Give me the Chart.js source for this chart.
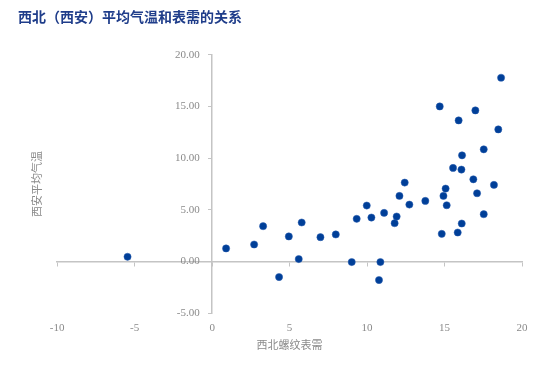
<!DOCTYPE html>
<html>
<head>
<meta charset="utf-8">
<script src="https://cdn.jsdelivr.net/npm/chart.js@4"></script>
<style>
  body { margin: 0; background: #fff; }
</style>
</head>
<body>
<canvas id="scatterChart" width="550" height="371"></canvas>
<script>
// 西北螺纹表需 (x) vs 西安平均气温 (y)
const demandValues = [-5.46, 0.90, 2.71, 3.29, 4.32, 4.95, 5.59, 5.78, 6.99, 7.98,
    9.01, 9.33, 9.98, 10.28, 10.77, 10.86, 11.10, 11.78, 11.91, 12.09,
    12.43, 12.73, 13.76, 14.82, 14.93, 15.07, 15.14, 15.85, 16.11, 17.53,
    17.10, 18.19, 16.86, 15.55, 16.09, 16.13, 17.53, 18.47, 15.91, 16.99,
    14.69, 18.65];
const tempValues = [0.45, 1.26, 1.64, 3.41, -1.51, 2.42, 0.23, 3.77, 2.35, 2.61,
    -0.06, 4.12, 5.41, 4.25, -1.80, -0.06, 4.70, 3.70, 4.35, 6.34,
    7.63, 5.50, 5.86, 2.67, 6.34, 7.05, 5.44, 2.80, 3.67, 4.57,
    6.60, 7.41, 7.95, 9.05, 8.89, 10.27, 10.85, 12.78, 13.65, 14.62,
    15.00, 17.78];
const xTicks = [-10, -5, 0, 5, 10, 15, 20];
const yTicks = [-5, 0, 5, 10, 15, 20];

const chartTitle = '西北（西安）平均气温和表需的关系';
const xTitle = '西北螺纹表需';
const yTitle = '西安平均气温';

const points = demandValues.map((x, i) => ({ x: x, y: tempValues[i] }));

const labelFont = { family: "'Liberation Serif', 'Noto Sans CJK SC'", size: 11 };
const axisGray = '#c4c4c4';
const textGray = '#8a8a8a';

const ctx = document.getElementById('scatterChart').getContext('2d');
new Chart(ctx, {
    type: 'scatter',
    data: {
        datasets: [{
            data: points,
            backgroundColor: '#003f98',
            borderColor: '#2a5fb0',
            borderWidth: 0.5,
            pointRadius: 3.6,
            xAxisID: 'x',
            yAxisID: 'y'
        }]
    },
    options: {
        responsive: false,
        animation: false,
        layout: { padding: { left: 18, right: 28, top: 0, bottom: 19.5 } },
        plugins: {
            legend: { display: false },
            tooltip: { enabled: false },
            title: {
                display: true,
                text: chartTitle,
                align: 'start',
                color: '#1f3d8a',
                font: { family: "'Noto Sans CJK SC'", size: 14, weight: 'bold' },
                padding: { top: 8, bottom: 30 }
            }
        },
        scales: {
            // bottom axis: only tick labels and title
            x: {
                type: 'linear',
                position: 'bottom',
                min: -10, max: 20,
                afterBuildTicks: (axis) => { axis.ticks = xTicks.map(v => ({ value: v })); },
                grid: { display: false },
                border: { display: false },
                ticks: { color: textGray, font: labelFont, padding: 0 },
                title: {
                    display: true,
                    text: xTitle,
                    color: textGray,
                    font: { family: "'Noto Sans CJK SC'", size: 11 },
                    padding: { top: 4, bottom: 0 }
                }
            },
            // horizontal axis line through y = 0
            xZero: {
                type: 'linear',
                position: { y: 0 },
                min: -10, max: 20,
                afterBuildTicks: (axis) => { axis.ticks = xTicks.map(v => ({ value: v })); },
                grid: { drawOnChartArea: false, tickLength: 4, tickColor: axisGray },
                border: { color: axisGray, width: 1.5 },
                ticks: { display: false }
            },
            // vertical axis line through x = 0 (data axis)
            y: {
                type: 'linear',
                position: { x: 0 },
                min: -5, max: 20,
                afterBuildTicks: (axis) => { axis.ticks = yTicks.map(v => ({ value: v })); },
                grid: { drawOnChartArea: false, tickLength: 3, tickColor: axisGray },
                border: { color: axisGray, width: 1.5 },
                ticks: { display: false }
            },
            // y tick labels, set a little left of the x = 0 line
            yLabels: {
                type: 'linear',
                position: { x: -0.8 },
                min: -5, max: 20,
                afterBuildTicks: (axis) => { axis.ticks = yTicks.map(v => ({ value: v })); },
                grid: { display: false },
                border: { display: false },
                ticks: {
                    color: textGray,
                    font: labelFont,
                    callback: (v) => Number(v).toFixed(2)
                }
            },
            // left axis only for the y title
            yTitleAxis: {
                type: 'linear',
                position: 'left',
                min: -5, max: 20,
                grid: { display: false },
                border: { display: false },
                ticks: { display: false },
                title: {
                    display: true,
                    text: yTitle,
                    color: textGray,
                    font: { family: "'Noto Sans CJK SC'", size: 11 },
                    padding: { top: 12, bottom: 6 }
                }
            }
        }
    }
});
</script>
</body>
</html>
